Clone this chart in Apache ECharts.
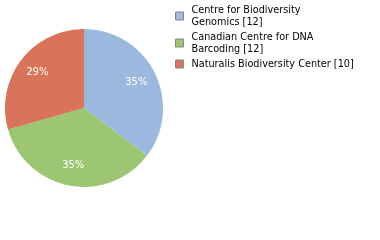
<!DOCTYPE html>
<html>
<head>
<meta charset="utf-8">
<script src="https://cdn.jsdelivr.net/npm/echarts@6/dist/echarts.min.js"></script>
<style>
  html, body { margin: 0; padding: 0; background: #fff; }
  #chart { width: 380px; height: 240px; }
</style>
</head>
<body>
<div id="chart"></div>
<script>
const names = ['Centre for Biodiversity Genomics', 'Canadian Centre for DNA Barcoding', 'Naturalis Biodiversity Center'];
const legendNames = ['Centre for Biodiversity\nGenomics [12]', 'Canadian Centre for DNA\nBarcoding [12]', 'Naturalis Biodiversity Center [10]'];
const counts = [12, 12, 10];
const colors = ['#9bb8df', '#9dc673', '#d9745a'];

const chart = echarts.init(document.getElementById('chart'));

const pieData = counts.map(function (v, i) {
    return { name: legendNames[i], value: v, itemStyle: { color: colors[i] } };
});

const option = {
    animation: false,
    legend: {
        orient: 'vertical',
        left: 175,
        top: 4,
        padding: 0,
        itemWidth: 8,
        itemHeight: 8,
        itemGap: 3,
        icon: 'rect',
        itemStyle: { borderColor: '#888', borderWidth: 1 },
        textStyle: { fontFamily: 'DejaVu Sans', fontSize: 9.7, color: '#000', lineHeight: 12, padding: [0, 0, 0, 3] },
        data: legendNames
    },
    series: [
        {
            type: 'pie',
            center: [84, 108],
            radius: [0, 79],
            startAngle: 90,
            clockwise: true,
            label: { show: false },
            labelLine: { show: false },
            emphasis: { disabled: true },
            data: pieData
        },
        {
            // transparent ring only used to place the labels further out
            type: 'pie',
            center: [84, 108],
            radius: [32, 79],
            startAngle: 90,
            clockwise: true,
            silent: true,
            itemStyle: { color: 'rgba(0,0,0,0)' },
            label: {
                show: true,
                position: 'inside',
                color: '#fff',
                fontFamily: 'DejaVu Sans',
                fontSize: 10,
                formatter: function (p) { return Math.round(p.percent) + '%'; }
            },
            labelLine: { show: false },
            emphasis: { disabled: true },
            data: counts.map(function (v, i) {
                return { name: legendNames[i] + ' ', value: v, itemStyle: { color: 'rgba(0,0,0,0)' } };
            })
        }
    ]
};

chart.setOption(option);
</script>
</body>
</html>
